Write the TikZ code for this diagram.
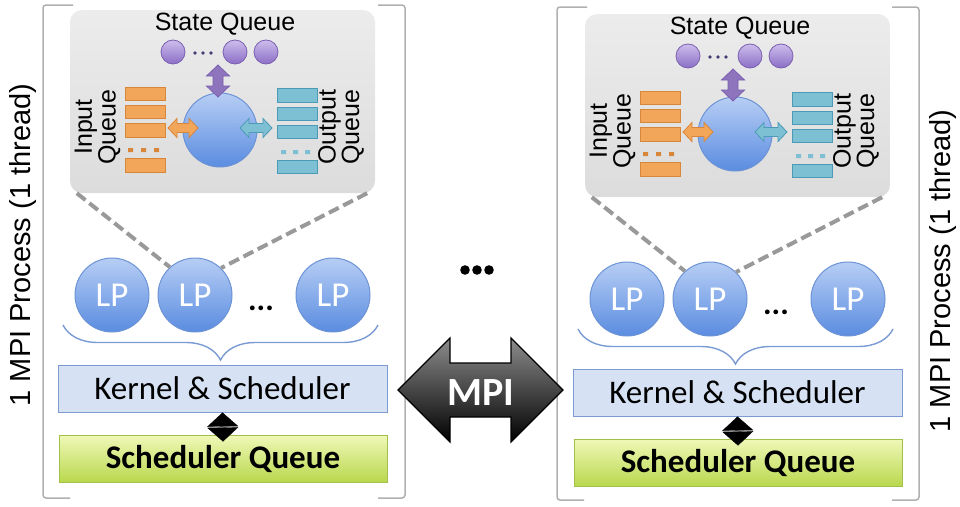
\documentclass[tikz,border=0pt]{standalone}
\usepackage{fontspec}
\setmainfont{Liberation Sans}
\newfontfamily\calfont{Carlito}
\usetikzlibrary{decorations.pathreplacing,arrows.meta}
\definecolor{brk}{HTML}{B0B0B0}
\definecolor{insT}{HTML}{ECECEC}
\definecolor{insB}{HTML}{DCDCDC}
\definecolor{purT}{HTML}{CDBDEC}
\definecolor{purB}{HTML}{8B6EC6}
\definecolor{purD}{HTML}{7A5FB0}
\definecolor{purA}{HTML}{8D74BD}
\definecolor{bluT}{HTML}{B7CEF5}
\definecolor{bluB}{HTML}{5A8CE0}
\definecolor{bluD}{HTML}{6C93D5}
\definecolor{orF}{HTML}{F2A65A}
\definecolor{orD}{HTML}{D8863A}
\definecolor{teF}{HTML}{7DBFD3}
\definecolor{teD}{HTML}{4C9BB6}
\definecolor{kerF}{HTML}{D6E1F4}
\definecolor{kerD}{HTML}{7C9BD0}
\definecolor{grT}{HTML}{F0F8B8}
\definecolor{grB}{HTML}{B9D84E}
\definecolor{grD}{HTML}{A2C04A}
\definecolor{braceC}{HTML}{7A9AD4}
\definecolor{dashC}{HTML}{999999}
\definecolor{pdotC}{HTML}{4A3C72}

\newcommand\dblarrowH[7]{%
  \draw[#7] (#1,#3) -- ({#1+#6},{#3-#5}) -- ({#1+#6},{#3-#4}) -- ({#2-#6},{#3-#4})
   -- ({#2-#6},{#3-#5}) -- (#2,#3) -- ({#2-#6},{#3+#5}) -- ({#2-#6},{#3+#4})
   -- ({#1+#6},{#3+#4}) -- ({#1+#6},{#3+#5}) -- cycle;}
\newcommand\dblarrowV[7]{%
  \draw[#7] (#3,#1) -- ({#3+#5},{#1+#6}) -- ({#3+#4},{#1+#6}) -- ({#3+#4},{#2-#6})
   -- ({#3+#5},{#2-#6}) -- (#3,#2) -- ({#3-#5},{#2-#6}) -- ({#3-#4},{#2-#6})
   -- ({#3-#4},{#1+#6}) -- ({#3-#5},{#1+#6}) -- cycle;}

\tikzset{
  inset/.style={rectangle, rounded corners=12pt, minimum width=305pt, minimum height=183pt,
     inner sep=0pt, top color=insT, bottom color=insB, draw=none},
  pc/.style={circle, minimum size=24pt, inner sep=0pt, top color=purT, bottom color=purB, draw=purD, line width=0.8pt},
  bigc/.style={circle, minimum size=74pt, inner sep=0pt, top color=bluT, bottom color=bluB, draw=bluD, line width=1pt},
  lpc/.style={circle, minimum size=74pt, inner sep=0pt, top color=bluT, bottom color=bluB, draw=bluD, line width=1pt,
     text=white, font=\calfont\fontsize{35}{38}\selectfont},
  oq/.style={fill=orF, draw=orD, line width=1pt},
  tq/.style={fill=teF, draw=teD, line width=1pt},
  kbox/.style={rectangle, minimum width=329pt, minimum height=47pt, inner sep=0pt, fill=kerF, draw=kerD, line width=1pt,
     font=\calfont\fontsize{33}{36}\selectfont},
  sqbox/.style={rectangle, minimum width=328pt, minimum height=47pt, inner sep=0pt, top color=grT, bottom color=grB, draw=grD, line width=1pt,
     font=\calfont\bfseries\fontsize{33}{36}\selectfont},
  dashln/.style={dashC, line width=4pt, dash pattern=on 11pt off 5pt},
  brc/.style={braceC, line width=1.4pt, decorate, decoration={brace, mirror, amplitude=35pt}},
  dmd/.style={white, line width=0.3pt, {Triangle[width=31pt,length=14pt,color=black]}-{Triangle[width=31pt,length=14pt,color=black]}},
  brkln/.style={brk, line width=1.5pt, rounded corners=3pt},
  sidetxt/.style={rotate=90, font=\fontsize{29}{32}\selectfont},
  qtxt/.style={rotate=90, align=center, font=\fontsize{25}{20}\selectfont, inner sep=0pt}
}

\newcommand\procunit[1]{%
  \node[inset] (#1in) at (222.5,101.5) {};
  \node[anchor=base, font=\fontsize{25}{28}\selectfont] (#1sqt) at (225,30) {State Queue};
  \node[pc] (#1s1) at (173,52) {};
  \node[pc] (#1s2) at (235,52) {};
  \node[pc] (#1s3) at (266,52) {};
  \fill[pdotC] (195,53) circle (1.8) (203,53) circle (1.8) (211,53) circle (1.8);
  \node[bigc] (#1c) at (220,130) {};
  \dblarrowV{65}{97}{218}{5}{11.5}{11}{fill=purA, draw=purD, line width=0.8pt}
  \draw[oq] (125,87) rectangle (165,100);
  \draw[oq] (125,105) rectangle (165,118);
  \draw[oq] (125,123) rectangle (165,137);
  \fill[orD] (128,148) rectangle (133,152) (141,148) rectangle (146,152) (154,148) rectangle (159,152);
  \draw[oq] (125,158) rectangle (165,172);
  \dblarrowH{168}{198}{128}{4.5}{9.5}{9}{fill=orF, draw=orD, line width=0.8pt}
  \draw[tq] (277,88) rectangle (317,102);
  \draw[tq] (277,107) rectangle (317,120);
  \draw[tq] (277,125) rectangle (317,138);
  \fill[teF] (281,150) rectangle (286,154) (293,150) rectangle (298,154) (305,150) rectangle (310,154);
  \draw[tq] (277,160) rectangle (317,173);
  \dblarrowH{240}{272}{128}{4.5}{9.5}{9}{fill=teF, draw=teD, line width=0.8pt}
  \node[qtxt] (#1iq) at (97.5,127) {Input\\Queue};
  \node[qtxt] (#1oq) at (341,127) {Output\\Queue};
  \node[lpc] (#1lp1) at (112,295) {LP};
  \node[lpc] (#1lp2) at (195,295) {LP};
  \node[lpc] (#1lp3) at (333,295) {LP};
  \node[anchor=base, font=\calfont\bfseries\fontsize{32}{34}\selectfont] (#1dots) at (261,310) {...};
  \draw[dashln] ([xshift=7pt]#1in.south west) -- (#1lp2.132);
  \draw[dashln] ([xshift=-8pt]#1in.south east) -- (#1lp2.46);
  \draw[brc] (63,325) -- (378,325);
  \node[kbox] (#1k) at (222.5,388.5) {Kernel \& Scheduler};
  \node[sqbox] (#1sq) at (223,458.5) {Scheduler Queue};
  \draw[dmd] (#1k.south) -- ([yshift=-7pt]#1sq.north);
}

\begin{document}
\begin{tikzpicture}[x=1pt,y=-1pt]
\useasboundingbox (0,0) rectangle (960,506);
% brackets
\draw[brkln] (73,5) -- (43,5) -- (43,498) -- (70,498);
\draw[brkln] (378,5) -- (405,5) -- (405,498) -- (378,498);
\draw[brkln] (587,7) -- (557,7) -- (557,500) -- (584,500);
\draw[brkln] (892,7) -- (919,7) -- (919,500) -- (892,500);
% side labels
\node[sidetxt] (lt) at (23,245) {1 MPI Process (1 thread)};
\node[sidetxt] (rt) at (943,271) {1 MPI Process (1 thread)};
% left process
\procunit{L}
% right process
\begin{scope}[shift={(515,4)}]
\procunit{R}
\end{scope}
% middle dots
\fill (465,270) circle (4.8) (477,270) circle (4.8) (489,270) circle (4.8);
% MPI arrow
\dblarrowH{398}{563}{390}{27}{52}{52}{top color=black!45, middle color=black!85, bottom color=black, draw=black, line width=1.2pt}
\node[anchor=base, text=white, font=\calfont\bfseries\fontsize{40}{44}\selectfont] (mpi) at (480.5,405) {MPI};
\end{tikzpicture}
\end{document}
